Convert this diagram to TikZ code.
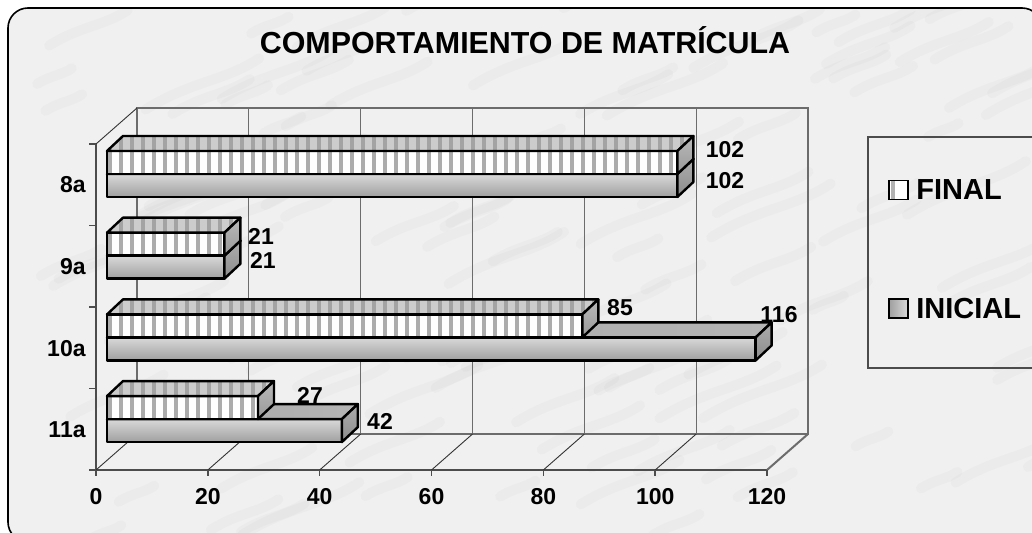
\documentclass[tikz,border=0pt]{standalone}
\usepackage{fontspec}
\setmainfont{Liberation Sans}
\usetikzlibrary{patterns.meta}

\def\sx{5.592}

\tikzset{
  grid line/.style={draw=gray!85!black, line width=0.6pt},
  floor line/.style={draw=black!80, line width=0.45pt},
  axis line/.style={draw=black!70, line width=0.8pt},
  bar edge/.style={draw=black, line width=1.2pt, line join=round},
  final front/.style={bar edge, preaction={fill=white},
    pattern={Lines[angle=90,distance=5.5pt,line width=1.9pt]}, pattern color=gray!65},
  final top/.style={bar edge, preaction={fill=gray!40},
    pattern={Lines[angle=90,distance=5.5pt,line width=1.9pt]}, pattern color=gray!72},
  final side/.style={bar edge, top color=gray!55, bottom color=gray!80},
  inicial front/.style={bar edge, top color=gray!30, bottom color=gray!75},
  inicial top/.style={bar edge, left color=gray!72, right color=gray!58},
  inicial side/.style={bar edge, top color=gray!65, bottom color=gray!90},
  num/.style={font=\fontsize{11.5}{13}\selectfont\bfseries, inner sep=0pt},
  legtext/.style={font=\fontsize{14.5}{16}\selectfont\bfseries, inner sep=0pt, anchor=west},
  swatch/.style={draw=black, line width=0.9pt, minimum size=9.5pt, inner sep=0pt},
}

\begin{document}
\begin{tikzpicture}[x=0.5pt, y=-0.5pt]
\useasboundingbox (0,0) rectangle (1032,533);

% marble panel
\fill[white] (0,0) rectangle (1032,533);
\fill[gray!12, rounded corners=10pt] (8,8) rectangle (1042,542);
\begin{scope}
  \clip[rounded corners=10pt] (8,8) rectangle (1042,542);
  \pgfmathsetseed{5}
  \foreach \k in {1,...,120}{
    \pgfmathsetmacro\vx{rnd*1040}
    \pgfmathsetmacro\vy{rnd*540}
    \pgfmathsetmacro\vl{30+rnd*90}
    \draw[gray!60, line width=5pt, opacity=0.08, line cap=round]
      (\vx,\vy) .. controls +(\vl*0.4,-\vl*0.25) and +(-\vl*0.3,\vl*0.2) .. +(\vl,-\vl*0.45);
  }
\end{scope}
\draw[black, line width=0.8pt, rounded corners=10pt] (8,8) rectangle (1042,542);

\node[font=\fontsize{15.2}{17}\selectfont\bfseries, inner sep=0pt, anchor=base] (title)
  at (525,54) {COMPORTAMIENTO DE MATRÍCULA};

% walls and floor
\draw[grid line] (137,108) -- (808,108) -- (808,434) -- (137,434) -- cycle;
\draw[floor line] (96,144) -- (137,108);
\draw[axis line] (96,144) -- (96,470) -- (767,470);
\draw[grid line, line width=1pt] (767,470) -- (808,434);
\draw[floor line] (96,470) -- (137,434);
\foreach \v in {20,40,...,120}{
  \draw[grid line] (137+\v*\sx,108) -- (137+\v*\sx,434);
}
\foreach \v in {20,40,...,100}{
  \draw[floor line] (96+\v*\sx,470) -- (137+\v*\sx,434);
}
\foreach \v in {0,20,...,120}{
  \draw[axis line] (96+\v*\sx,470) -- (96+\v*\sx,476);
  \node[num] (x\v) at (96+\v*\sx,497) {\v};
}
\foreach \k in {0,...,4}{
  \draw[axis line] (89,144+81.5*\k) -- (96,144+81.5*\k);
}

% bars
\foreach \cat/\i/\fin/\ini in {8a/0/102/102, 9a/1/21/21, 10a/2/85/116, 11a/3/27/42}{
  \pgfmathsetmacro\yt{151+81.7*\i}
  \pgfmathsetmacro\ym{\yt+23}
  \pgfmathsetmacro\yb{\yt+46}
  \pgfmathsetmacro\xfin{107+\fin*\sx}
  \pgfmathsetmacro\xini{107+\ini*\sx}
  \draw[inicial front] (107,\ym) rectangle (\xini,\yb);
  \draw[inicial top] (107,\ym) -- (123,\ym-15) -- (\xini+16,\ym-15) -- (\xini,\ym) -- cycle;
  \draw[inicial side] (\xini,\ym) -- (\xini+16,\ym-15) -- (\xini+16,\yb-15) -- (\xini,\yb) -- cycle;
  \draw[final front] (107,\yt) rectangle (\xfin,\ym);
  \draw[final top] (107,\yt) -- (123,\yt-15) -- (\xfin+16,\yt-15) -- (\xfin,\yt) -- cycle;
  \draw[final side] (\xfin,\yt) -- (\xfin+16,\yt-15) -- (\xfin+16,\ym-15) -- (\xfin,\ym) -- cycle;
  \node[num, anchor=east] (c\cat) at (86,185+81.7*\i) {\cat};
}

% data labels
\node[num] (fin8a) at (725,150) {102};
\node[num] (ini8a) at (725,181) {102};
\node[num] (fin9a) at (261,236) {21};
\node[num] (ini9a) at (263,260) {21};
\node[num] (fin10a) at (620,308) {85};
\node[num] (ini10a) at (779,315) {116};
\node[num] (fin11a) at (310,395) {27};
\node[num] (ini11a) at (380,421) {42};

% legend
\draw[gray!60!black, line width=0.8pt] (868,137) rectangle (1040,368);
\node[swatch, fill=white,
  path picture={\fill[gray!60] ([xshift=1.2pt]path picture bounding box.south west)
    rectangle ([xshift=3.2pt]path picture bounding box.north west);}]
  (swfinal) at (898.5,190) {};
\node[legtext] (legfinal) at (916,190) {FINAL};
\node[swatch, left color=gray!75, right color=gray!30] (swinicial) at (898.5,308.5) {};
\node[legtext] (leginicial) at (916,308.5) {INICIAL};
\end{tikzpicture}
\end{document}
